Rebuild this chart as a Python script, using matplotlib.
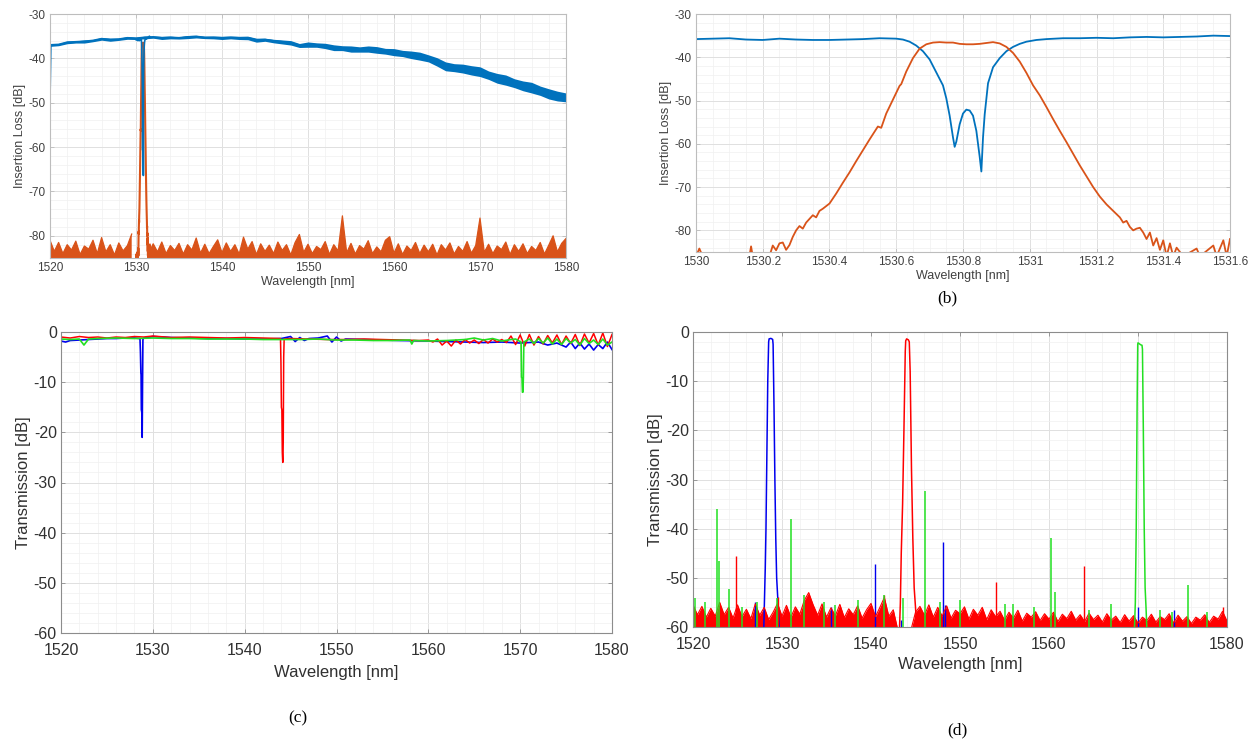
import numpy as np
import matplotlib.pyplot as plt
from matplotlib.ticker import MultipleLocator, AutoMinorLocator, FuncFormatter

plt.rcParams['font.family'] = ['Liberation Sans', 'DejaVu Sans']
plt.rcParams['axes.unicode_minus'] = False

# ---- (a) broadband insertion loss, blue = through, orange = drop
a_blue_wl = np.arange(1520, 1581, 1.0)
a_blue_db = [-37.0, -36.9, -36.4, -36.3, -36.2, -36.0, -35.6, -35.8, -35.7, -35.4,
             -35.5, -35.3, -35.2, -35.4, -35.3, -35.4, -35.2, -35.1, -35.3, -35.3,
             -35.4, -35.3, -35.4, -35.4, -35.9, -35.8, -36.1, -36.3, -36.5, -37.1,
             -36.9, -37.0, -37.2, -37.6, -37.7, -37.9, -38.0, -37.9, -38.1, -38.4,
             -38.6, -38.9, -39.2, -39.5, -40.0, -40.8, -41.8, -42.1, -42.3, -42.7,
             -43.0, -43.8, -44.5, -44.9, -45.6, -46.2, -46.6, -47.3, -48.0, -48.5, -48.8]
a_blue_spread = [0.3, 0.25, 0.3, 0.25, 0.35, 0.25, 0.3, 0.35, 0.25, 0.3,
                 0.25, 0.3, 0.25, 0.35, 0.3, 0.25, 0.35, 0.3, 0.25, 0.3,
                 0.35, 0.3, 0.35, 0.4, 0.45, 0.35, 0.4, 0.45, 0.5, 0.45,
                 0.6, 0.5, 0.6, 0.65, 0.55, 0.7, 0.6, 0.7, 0.75, 0.65,
                 0.8, 0.7, 0.85, 0.9, 0.8, 0.95, 1.0, 0.9, 1.0, 1.05,
                 1.1, 0.95, 1.1, 1.15, 1.0, 1.1, 1.2, 1.05, 1.15, 1.1, 1.0]
a_edge_wl = [1520.0, 1520.1]
a_edge_db = [-49.5, -37.1]

a_noise_wl = np.arange(1520, 1580.01, 0.5)
a_noise_db = [-81.0, -83.5, -81.5, -84.0, -82.0, -83.2, -81.2, -84.2, -82.3, -83.0,
              -81.0, -84.0, -80.4, -83.6, -82.0, -84.3, -81.6, -83.4, -82.2, -79.6,
              np.nan, np.nan, np.nan, -83.8, -81.8, -83.6, -81.4, -84.0, -82.2, -83.3,
              -81.7, -84.1, -82.0, -83.2, -80.5, -83.9, -81.9, -84.0, -82.4, -80.9,
              -83.8, -81.6, -83.5, -82.0, -84.1, -80.3, -83.0, -81.3, -84.2, -81.8,
              -83.5, -82.1, -84.0, -81.4, -83.3, -82.0, -84.3, -81.5, -79.7, -83.7,
              -81.9, -84.0, -82.4, -83.1, -81.3, -84.2, -82.0, -83.4, -75.5, -83.8,
              -81.7, -84.1, -82.2, -83.0, -81.1, -84.0, -82.5, -83.6, -81.0, -80.2,
              -83.9, -81.8, -84.2, -82.3, -83.3, -81.5, -84.0, -82.1, -83.6, -81.9,
              -84.3, -82.0, -83.2, -81.6, -84.1, -82.4, -83.5, -81.3, -83.9, -82.2,
              -76.0, -83.7, -81.9, -84.0, -82.3, -83.1, -81.4, -84.2, -82.0, -83.5,
              -81.8, -84.0, -82.4, -83.3, -81.5, -84.1, -82.1, -80.0, -83.6, -81.7, -80.6]

# ---- (b) zoom around the channel at 1530.8 nm
b_blue_wl = [1530.00, 1530.05, 1530.10, 1530.15, 1530.20, 1530.25, 1530.30, 1530.35,
             1530.40, 1530.45, 1530.50, 1530.55, 1530.60, 1530.62, 1530.64, 1530.66,
             1530.68, 1530.70, 1530.72, 1530.74, 1530.75, 1530.76, 1530.77, 1530.775,
             1530.78, 1530.79, 1530.80, 1530.81, 1530.82, 1530.83, 1530.84, 1530.85,
             1530.855, 1530.86, 1530.865, 1530.875, 1530.89, 1530.91, 1530.93, 1530.95,
             1530.97, 1530.99, 1531.02, 1531.05, 1531.10, 1531.15, 1531.20, 1531.25,
             1531.30, 1531.35, 1531.40, 1531.45, 1531.50, 1531.55, 1531.60]
b_blue_db = [-35.8, -35.7, -35.6, -35.9, -36.0, -35.7, -35.9, -36.0,
             -36.0, -35.9, -35.8, -35.6, -35.7, -35.9, -36.4, -37.3,
             -38.6, -40.5, -43.5, -46.5, -49.5, -53.5, -58.5, -60.7,
             -59.5, -55.5, -53.0, -52.1, -52.3, -53.5, -57.0, -63.0,
             -66.4, -58.5, -53.2, -46.0, -42.3, -40.2, -38.6, -37.6,
             -36.9, -36.4, -36.0, -35.8, -35.6, -35.6, -35.5, -35.6,
             -35.4, -35.3, -35.4, -35.3, -35.2, -35.0, -35.1]

b_orange_wl = [1530.00, 1530.01, 1530.02, 1530.16, 1530.165, 1530.17, 1530.22, 1530.23,
               1530.24, 1530.25, 1530.26, 1530.27, 1530.28, 1530.29, 1530.30, 1530.31,
               1530.32, 1530.33, 1530.35, 1530.36, 1530.37, 1530.38, 1530.40, 1530.42,
               1530.44, 1530.46, 1530.48, 1530.50, 1530.52, 1530.54, 1530.545, 1530.555,
               1530.57, 1530.59, 1530.61, 1530.615, 1530.63, 1530.65, 1530.67, 1530.69,
               1530.71, 1530.73, 1530.75, 1530.77, 1530.79, 1530.81, 1530.83, 1530.85,
               1530.87, 1530.89, 1530.91, 1530.93, 1530.95, 1530.97, 1530.99, 1531.01,
               1531.03, 1531.05, 1531.07, 1531.09, 1531.11, 1531.13, 1531.15, 1531.17,
               1531.19, 1531.21, 1531.23, 1531.25, 1531.27, 1531.28, 1531.29, 1531.30,
               1531.31, 1531.32, 1531.33, 1531.34, 1531.35, 1531.36, 1531.37, 1531.38,
               1531.39, 1531.40, 1531.41, 1531.42, 1531.43, 1531.44, 1531.46, 1531.50,
               1531.51, 1531.55, 1531.56, 1531.58, 1531.59, 1531.60]
b_orange_db = [-86.0, -84.2, -86.0, -86.0, -83.7, -86.0, -86.0, -83.5,
               -84.6, -83.0, -82.8, -84.5, -83.4, -81.5, -80.0, -79.0,
               -79.6, -78.2, -76.5, -77.0, -75.5, -75.0, -73.8, -71.5,
               -69.0, -66.6, -64.0, -61.5, -59.0, -56.6, -56.0, -56.3,
               -53.0, -49.8, -46.6, -46.2, -43.3, -40.2, -38.0, -37.0,
               -36.6, -36.5, -36.6, -36.6, -36.9, -37.0, -37.0, -36.9,
               -36.7, -36.5, -36.8, -37.6, -39.0, -41.0, -43.6, -46.5,
               -48.8, -51.5, -54.3, -57.0, -59.6, -62.3, -65.0, -67.5,
               -70.0, -72.2, -74.0, -75.5, -77.0, -78.2, -77.8, -79.2,
               -80.0, -79.6, -79.4, -80.5, -82.0, -80.5, -83.5, -81.8,
               -84.5, -82.3, -86.0, -83.0, -86.0, -84.0, -86.0, -84.2,
               -86.0, -83.5, -86.0, -82.3, -86.0, -82.0]

# ---- (c) through-port transmission of three channels
c_blue_wl = [1520, 1520.5, 1521, 1522, 1523, 1524, 1525, 1526, 1527, 1528, 1528.6, 1528.65,
             1528.7, 1528.72, 1528.75, 1528.8, 1528.84, 1528.88, 1528.92, 1529, 1530, 1532,
             1534, 1536, 1538, 1540, 1542, 1544, 1545, 1545.5, 1546, 1546.5, 1547, 1548,
             1549, 1549.5, 1550, 1550.5, 1551, 1553, 1555, 1557, 1560, 1562, 1564, 1566,
             1568, 1570, 1572, 1573, 1574, 1575, 1575.5, 1576, 1576.5, 1577, 1577.5, 1578,
             1578.5, 1579, 1579.5, 1580]
c_blue_db = [-1.8, -2.0, -1.7, -1.6, -1.5, -1.4, -1.3, -1.3, -1.2, -1.2, -1.3, -4.0,
             -8.2, -8.5, -15.5, -16.0, -21.0, -10.0, -1.5, -1.2, -0.9, -1.1,
             -1.2, -1.3, -1.3, -1.4, -1.4, -1.3, -0.9, -1.9, -1.1, -1.7, -1.3, -1.2,
             -0.8, -2.0, -1.0, -1.8, -1.4, -1.5, -1.6, -1.7, -1.8, -1.9, -2.0, -2.1,
             -2.0, -2.2, -2.0, -2.6, -2.2, -3.0, -2.0, -3.3, -2.2, -3.4, -2.4, -3.6,
             -2.5, -3.3, -2.0, -3.5]

c_red_wl = [1520, 1521, 1522, 1523, 1524, 1525, 1526, 1527, 1528, 1529, 1530, 1532, 1534,
            1536, 1538, 1540, 1542, 1543.9, 1543.95, 1544.0, 1544.05, 1544.1, 1544.15,
            1544.2, 1544.25, 1544.3, 1545, 1547, 1549, 1551, 1553, 1555, 1557, 1559,
            1560, 1560.5, 1561, 1561.5, 1562, 1562.5, 1563, 1563.5, 1564, 1564.5, 1565,
            1565.5, 1566, 1566.5, 1567, 1567.5, 1568, 1568.5, 1569, 1569.5, 1570, 1570.5,
            1571, 1571.5, 1572, 1572.5, 1573, 1573.5, 1574, 1574.5, 1575, 1575.5, 1576,
            1576.5, 1577, 1577.5, 1578, 1578.5, 1579, 1579.5, 1580]
c_red_db = [-1.0, -1.2, -0.9, -1.1, -1.0, -1.2, -1.0, -1.1, -0.9, -1.0, -0.8, -1.1, -1.0,
            -1.1, -1.2, -1.1, -1.2, -1.3, -6.0, -15.0, -15.5, -24.0, -26.0,
            -22.0, -5.0, -1.4, -1.3, -1.4, -1.5, -1.5, -1.4, -1.5, -1.6, -1.7,
            -1.6, -2.0, -1.4, -2.6, -1.8, -2.8, -1.6, -2.4, -1.5, -2.2, -1.6,
            -2.3, -1.5, -2.2, -1.4, -2.0, -1.5, -2.1, -0.8, -2.5, -0.6, -2.8,
            -0.5, -2.6, -0.9, -2.4, -0.7, -2.2, -0.6, -2.5, -0.8, -2.3, -0.5,
            -2.7, -0.4, -2.2, -0.3, -2.6, -0.2, -2.9, -0.5]

c_green_wl = [1520, 1521, 1522, 1522.5, 1523, 1524, 1526, 1528, 1530, 1532, 1534, 1536,
              1538, 1540, 1542, 1544, 1546, 1548, 1550, 1552, 1554, 1556, 1558, 1558.2,
              1558.4, 1560, 1562, 1564, 1565, 1566, 1567, 1568, 1569, 1569.5, 1570.1,
              1570.15, 1570.2, 1570.25, 1570.3, 1570.35, 1570.4, 1571, 1571.5, 1572,
              1572.5, 1573, 1573.5, 1574, 1574.5, 1575, 1575.5, 1576, 1576.5, 1577,
              1577.5, 1578, 1578.5, 1579, 1579.5, 1580]
c_green_db = [-1.4, -1.5, -1.4, -2.6, -1.4, -1.3, -1.2, -1.3, -1.2, -1.3, -1.3, -1.4,
              -1.4, -1.4, -1.5, -1.5, -1.5, -1.4, -1.6, -1.6, -1.7, -1.7, -1.6, -2.4,
              -1.7, -1.8, -1.7, -1.5, -1.2, -1.6, -1.3, -1.8, -1.5, -1.4, -2.0,
              -9.0, -9.2, -12.0, -12.0, -9.0, -2.0, -1.4, -2.3, -1.3,
              -2.2, -1.2, -2.4, -1.4, -2.5, -1.3, -2.2, -1.5, -2.6, -1.3,
              -2.3, -1.6, -2.5, -1.4, -2.6, -2.0]

# ---- (d) drop-port transmission of three channels
d_noise_wl = np.arange(1520, 1580.01, 0.5)
d_red_noise_db = [-55.5, -57.5, -55.8, -58.0, -56.2, -57.8, -55.0, -57.5, -56.0, -58.2,
                  -55.5, -57.9, -56.4, -58.3, -55.3, -57.6, -56.0, -58.5, -57.0, -55.2,
                  -57.8, -55.6, -58.0, -55.9, -57.4, -54.6, -53.0, -55.5, -57.6, -55.3,
                  -58.0, -56.1, -57.7, -55.4, -58.1, -56.3, -57.5, -55.7, -58.2, -56.5,
                  -55.2, -57.9, -56.0, -54.0, -57.8, -56.5, -60.5, -60.5, -60.5, -60.5,
                  -57.0, -55.8, -57.6, -55.5, -58.0, -56.0, -57.8, -55.7, -58.2, -56.6,
                  -57.3, -55.9, -58.4, -56.4, -57.6, -56.0, -58.5, -56.5, -57.9, -56.8,
                  -58.6, -57.0, -58.2, -56.6, -58.8, -57.2, -58.0, -56.9, -58.7, -57.3,
                  -58.4, -57.0, -58.9, -57.4, -58.3, -56.8, -58.6, -57.5, -58.9, -57.2,
                  -58.5, -57.6, -59.0, -57.3, -58.6, -57.8, -59.1, -57.5, -58.8, -57.7,
                  -59.2, -58.0, -58.7, -57.4, -59.0, -57.9, -58.5, -57.3, -59.2, -57.6,
                  -58.8, -57.9, -59.3, -58.0, -58.6, -57.5, -59.1, -57.8, -58.4, -56.8, -58.8]

d_blue_peak_wl = [1527.95, 1528.05, 1528.12, 1528.2, 1528.3, 1528.4, 1528.5, 1528.55, 1528.75,
                  1528.95, 1529.0, 1529.1, 1529.2, 1529.3, 1529.4, 1529.55, 1529.7]
d_blue_peak_db = [-60.5, -53.0, -48.0, -40.0, -25.0, -10.0, -2.0, -1.4, -1.3,
                  -1.5, -2.5, -15.0, -30.0, -42.0, -50.0, -55.0, -60.5]
d_red_peak_wl = [1543.2, 1543.3, 1543.4, 1543.55, 1543.7, 1543.85, 1543.9, 1544.0, 1544.2,
                 1544.3, 1544.4, 1544.55, 1544.7, 1544.85, 1545.0, 1545.15]
d_red_peak_db = [-60.5, -55.0, -45.0, -35.0, -20.0, -4.0, -1.8, -1.4, -1.6,
                 -2.0, -8.0, -28.0, -42.0, -52.0, -56.0, -60.5]
d_green_peak_wl = [1569.6, 1569.7, 1569.8, 1569.9, 1569.97, 1570.0, 1570.15, 1570.3, 1570.45,
                   1570.5, 1570.6, 1570.7, 1570.8, 1570.9, 1571.0]
d_green_peak_db = [-60.5, -55.0, -40.0, -15.0, -2.5, -2.2, -2.4, -2.6, -2.7,
                   -3.5, -20.0, -40.0, -52.0, -56.0, -60.5]

d_red_spike_wl = [1524.8, 1529.6, 1541.5, 1554.0, 1563.9, 1579.5]
d_red_spike_db = [-45.5, -53.8, -53.5, -50.8, -47.6, -56.0]
d_blue_spike_wl = [1527.0, 1535.5, 1540.4, 1543.4, 1548.1, 1548.3, 1570.0, 1574.0]
d_blue_spike_db = [-55.0, -56.0, -47.1, -58.5, -42.7, -55.5, -56.0, -56.5]
d_green_spike_wl = [1520.2, 1521.3, 1522.7, 1522.9, 1524.1, 1525.5, 1527.2, 1529.4, 1531.0,
                    1532.5, 1534.7, 1536.0, 1538.5, 1541.5, 1543.6, 1546.1, 1547.8, 1550.0,
                    1555.1, 1556.0, 1558.3, 1560.2, 1560.7, 1564.5, 1567.0, 1572.5, 1573.8,
                    1575.6, 1577.8]
d_green_spike_db = [-54.0, -55.0, -36.0, -46.6, -52.2, -56.0, -55.0, -54.0, -38.1,
                    -53.5, -55.0, -55.5, -54.6, -53.5, -54.0, -32.3, -55.0, -54.5,
                    -55.3, -55.3, -56.0, -41.8, -52.9, -56.5, -55.3, -56.5, -57.0,
                    -51.4, -57.0]

ML_BLUE = '#0072BD'
ML_ORANGE = '#D95319'
BLUE = '#0000ee'
RED = '#ff0000'
GREEN = '#22e022'

fig = plt.figure(figsize=(12.56, 7.4), dpi=100)
W, H = 1256, 740


def make_axes(left, right, top, bottom):
    return fig.add_axes([left / W, 1 - bottom / H, (right - left) / W, (bottom - top) / H])


def style(ax, fsize, tick_color, spine_color, nminor_x, nminor_y, xpad=3):
    ax.grid(True, which='major', color='#e0e0e0', lw=0.7)
    ax.grid(True, which='minor', color='#f0f0f0', lw=0.5)
    ax.set_axisbelow(True)
    ax.xaxis.set_minor_locator(AutoMinorLocator(nminor_x))
    ax.yaxis.set_minor_locator(AutoMinorLocator(nminor_y))
    ax.tick_params(which='major', direction='in', length=3, width=0.6,
                   colors=spine_color, labelcolor=tick_color, labelsize=fsize,
                   top=True, right=True, pad=3)
    ax.tick_params(axis='x', which='major', pad=xpad)
    ax.tick_params(which='minor', length=0)
    for s in ax.spines.values():
        s.set_color(spine_color)
        s.set_linewidth(0.8)


fmt = FuncFormatter(lambda v, p: f'{v:g}')

# (a)
ax = make_axes(50, 566, 14, 258)
a_mid = np.array(a_blue_db)
a_sp = np.array(a_blue_spread)
ax.fill_between(a_blue_wl, a_mid - a_sp, a_mid + a_sp, color=ML_BLUE, lw=0)
ax.plot(a_blue_wl, a_mid, color=ML_BLUE, lw=1.5)
ax.plot(a_edge_wl, a_edge_db, color=ML_BLUE, lw=1.2)
ax.fill_between(a_noise_wl, -90, a_noise_db, color=ML_ORANGE, lw=0)
ax.plot(a_noise_wl, a_noise_db, color=ML_ORANGE, lw=0.9)
ax.plot(b_orange_wl, b_orange_db, color=ML_ORANGE, lw=1.5)
ax.plot(b_blue_wl, b_blue_db, color=ML_BLUE, lw=1.2)
ax.set_xlim(1520, 1580)
ax.set_ylim(-85, -30)
ax.xaxis.set_major_locator(MultipleLocator(10))
ax.yaxis.set_major_locator(MultipleLocator(10))
style(ax, 8.5, '#404040', '#bdbdbd', 5, 5)
ax.set_xlabel('Wavelength [nm]', fontsize=9, color='#404040', labelpad=1)
ax.set_ylabel('Insertion Loss [dB]', fontsize=9, color='#404040', labelpad=2)

# (b)
ax = make_axes(696, 1230, 14, 252)
ax.plot(b_blue_wl, b_blue_db, color=ML_BLUE, lw=1.3)
ax.plot(b_orange_wl, b_orange_db, color=ML_ORANGE, lw=1.3)
ax.set_xlim(1530, 1531.6)
ax.set_ylim(-85, -30)
ax.xaxis.set_major_locator(MultipleLocator(0.2))
ax.xaxis.set_major_formatter(fmt)
ax.yaxis.set_major_locator(MultipleLocator(10))
style(ax, 8.5, '#404040', '#bdbdbd', 4, 5)
ax.set_xlabel('Wavelength [nm]', fontsize=9, color='#404040', labelpad=1)
ax.set_ylabel('Insertion Loss [dB]', fontsize=9, color='#404040', labelpad=2)

# (c)
ax = make_axes(61, 612, 332, 633)
ax.plot(c_blue_wl, c_blue_db, color=BLUE, lw=1.2)
ax.plot(c_red_wl, c_red_db, color=RED, lw=1.1)
ax.plot(c_green_wl, c_green_db, color=GREEN, lw=1.2)
ax.set_xlim(1520, 1580)
ax.set_ylim(-60, 0)
ax.xaxis.set_major_locator(MultipleLocator(10))
ax.yaxis.set_major_locator(MultipleLocator(10))
style(ax, 11.5, '#303030', '#8c8c8c', 5, 5, xpad=7)
ax.set_xlabel('Wavelength [nm]', fontsize=12, color='#303030', labelpad=5)
ax.set_ylabel('Transmission [dB]', fontsize=12, color='#303030', labelpad=2)

# (d)
ax = make_axes(693, 1227, 332, 627)
ax.vlines(d_blue_spike_wl, -61, d_blue_spike_db, color=BLUE, lw=1)
ax.plot(d_blue_peak_wl, d_blue_peak_db, color=BLUE, lw=1.1)
ax.fill_between(d_noise_wl, -61, d_red_noise_db, color=RED, lw=0)
ax.plot(d_noise_wl, d_red_noise_db, color=RED, lw=0.8)
ax.vlines(d_red_spike_wl, -61, d_red_spike_db, color=RED, lw=1)
ax.plot(d_red_peak_wl, d_red_peak_db, color=RED, lw=1.1)
ax.vlines(d_green_spike_wl, -61, d_green_spike_db, color=GREEN, lw=1.1)
ax.plot(d_green_peak_wl, d_green_peak_db, color=GREEN, lw=1.1)
ax.set_xlim(1520, 1580)
ax.set_ylim(-60, 0)
ax.xaxis.set_major_locator(MultipleLocator(10))
ax.yaxis.set_major_locator(MultipleLocator(10))
style(ax, 11.5, '#303030', '#8c8c8c', 5, 5, xpad=7)
ax.set_xlabel('Wavelength [nm]', fontsize=12, color='#303030', labelpad=4)
ax.set_ylabel('Transmission [dB]', fontsize=12, color='#303030', labelpad=2)

serif = ['Liberation Serif', 'DejaVu Serif']
fig.text(947 / W, 1 - 298 / H, '(b)', family=serif, fontsize=12.5, ha='center', va='center')
fig.text(298 / W, 1 - 718 / H, '(c)', family=serif, fontsize=12.5, ha='center', va='center')
fig.text(957 / W, 1 - 730 / H, '(d)', family=serif, fontsize=12.5, ha='center', va='center')

fig.savefig('out.png', dpi=100)
